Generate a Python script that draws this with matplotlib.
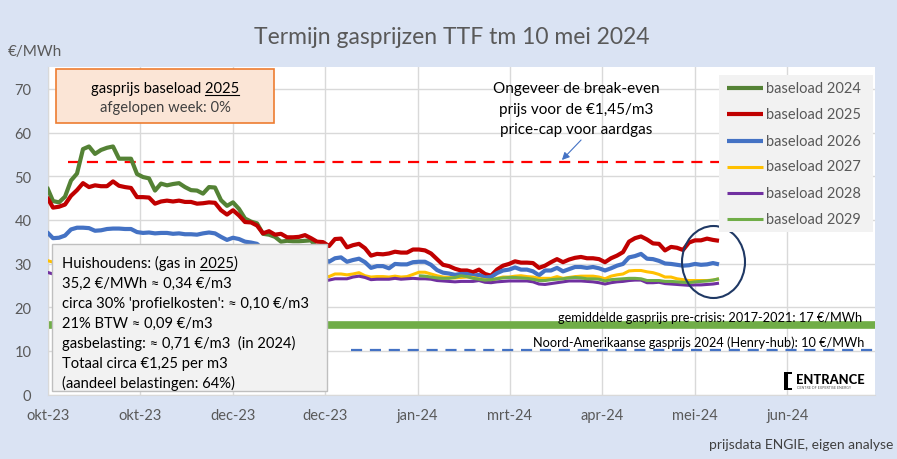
import numpy as np
import matplotlib
matplotlib.use("Agg")
import matplotlib.pyplot as plt
from matplotlib.patches import Rectangle, Ellipse, FancyArrowPatch
from matplotlib.lines import Line2D

plt.rcParams['font.family'] = ['Lato', 'DejaVu Sans']

nan = np.nan

# ---------------- data (EUR/MWh, one value per trading-day step) ----------------
tick_labels = ["okt-23", "okt-23", "dec-23", "dec-23", "jan-24", "mrt-24", "apr-24", "mei-24", "jun-24"]

base2024 = [47.5, 44.3, 44.0, 45.3, 49.0, 50.6, 56.2, 56.8, 55.1, 56.0, 56.5, 56.8, 54.0, 54.0, 54.0,
            50.5, 49.8, 49.5, 46.7, 48.3, 47.9, 48.2, 48.4, 47.5, 46.8, 46.7, 46.0, 47.5, 47.4, 44.5,
            43.2, 44.0, 42.5, 40.3, 39.6, 39.2, 36.8, 36.6, 36.1, 35.0, 35.2, 35.1, 35.1, 35.2, 35.3,
            33.5]

base2025 = [45.2, 42.8, 43.0, 43.5, 45.5, 46.8, 48.4, 47.5, 47.9, 47.7, 47.7, 48.8, 47.8, 47.5, 47.3,
            45.2, 45.2, 45.1, 43.7, 44.2, 44.4, 44.2, 44.4, 44.1, 44.1, 43.7, 43.8, 44.0, 43.9, 42.2,
            41.2, 42.2, 41.0, 39.5, 39.4, 38.7, 36.9, 37.4, 36.6, 36.8, 36.0, 36.0, 36.1, 36.5, 35.8,
            35.0, 34.9, 34.0, 35.6, 35.7, 33.7, 34.2, 34.5, 33.5, 31.8, 32.2, 32.1, 32.3, 32.7, 32.5,
            32.5, 33.2, 33.2, 33.0, 32.3, 31.0, 29.7, 29.4, 28.8, 28.4, 28.4, 28.0, 28.6, 27.6, 27.2,
            28.6, 29.5, 29.9, 30.5, 30.2, 30.2, 30.1, 29.0, 29.5, 30.3, 31.0, 30.3, 30.9, 31.3, 31.5,
            31.2, 31.2, 31.0, 30.3, 31.2, 31.8, 32.6, 35.0, 35.8, 36.2, 35.5, 34.6, 34.5, 33.0, 33.8,
            33.6, 33.1, 34.8, 35.3, 35.3, 35.7, 35.4, 35.2]

base2026 = [37.2, 35.8, 35.9, 36.4, 37.8, 38.2, 38.2, 38.1, 37.5, 37.6, 37.9, 38.0, 38.0, 37.9, 37.9,
            37.2, 37.0, 37.1, 36.9, 37.0, 37.0, 36.8, 36.9, 36.7, 36.7, 36.6, 36.9, 37.1, 36.9, 36.1,
            35.4, 35.9, 35.6, 35.0, 34.8, 34.5, 33.2, 33.5, 33.0, 33.1, 32.5, 32.4, 32.4, 32.7, 32.2,
            31.5, 31.2, 30.4, 31.2, 31.4, 30.4, 30.8, 31.1, 30.3, 29.0, 29.4, 29.4, 28.9, 29.9, 29.8,
            29.8, 30.3, 30.4, 30.4, 29.7, 28.5, 27.9, 27.7, 27.4, 27.6, 27.6, 27.2, 27.4, 26.8, 26.9,
            27.8, 28.4, 28.6, 29.1, 28.6, 28.6, 28.2, 27.3, 28.4, 28.4, 29.0, 28.2, 28.7, 29.2, 29.2,
            29.0, 29.2, 28.9, 28.4, 28.9, 29.5, 29.9, 31.4, 31.7, 32.2, 31.1, 31.0, 30.6, 30.0, 29.9,
            29.7, 29.5, 29.6, 29.9, 29.7, 29.8, 30.1, 29.8]

base2027 = [30.7, 30.3, 30.2, 30.4, 31.0, 31.3, 31.3, 31.2, 31.0, 31.0, 31.1, 31.2, 31.1, 31.0, 31.0,
            30.7, 30.6, 30.6, 30.4, 30.5, 30.5, 30.3, 30.3, 30.2, 30.2, 30.1, 30.2, 30.3, 30.2, 29.8,
            29.4, 29.6, 29.4, 29.0, 28.9, 28.7, 28.2, 28.3, 28.0, 28.1, 27.8, 27.7, 27.7, 27.9, 27.6,
            27.2, 27.1, 27.0, 27.6, 27.6, 27.4, 27.6, 27.9, 27.2, 26.9, 27.0, 27.0, 26.9, 27.1, 26.9,
            27.0, 27.5, 28.0, 28.0, 27.6, 27.2, 26.9, 26.8, 26.7, 26.8, 26.9, 26.8, 26.5, 26.3, 26.1,
            26.6, 26.9, 26.9, 27.1, 27.2, 27.0, 26.9, 26.6, 26.6, 26.6, 27.0, 26.6, 26.8, 27.0, 27.1,
            27.1, 27.1, 26.9, 26.5, 27.1, 27.4, 27.6, 28.3, 28.4, 28.4, 28.1, 27.9, 27.5, 26.9, 26.9,
            26.5, 26.3, 26.1, 26.1, 26.1, 26.1, 26.2, 26.5]

base2028 = [28.0, 27.6, 27.5, 27.7, 28.3, 28.5, 28.5, 28.4, 28.2, 28.2, 28.3, 28.4, 28.3, 28.2, 28.2,
            27.9, 27.8, 27.8, 27.7, 27.7, 27.7, 27.6, 27.6, 27.5, 27.5, 27.4, 27.5, 27.6, 27.5, 27.2,
            26.9, 27.1, 26.9, 26.6, 26.6, 26.5, 26.3, 26.4, 26.2, 26.3, 26.1, 26.1, 26.1, 26.2, 26.1,
            26.0, 26.0, 26.2, 26.5, 26.5, 26.5, 26.9, 27.1, 26.8, 26.3, 26.4, 26.4, 26.4, 26.6, 26.4,
            26.5, 26.6, 26.5, 26.5, 26.4, 26.1, 26.0, 25.9, 25.8, 25.9, 25.9, 25.9, 26.1, 25.7, 25.6,
            25.8, 25.9, 26.0, 26.0, 26.0, 26.0, 25.8, 25.3, 25.2, 25.4, 25.6, 25.8, 26.0, 26.0, 26.0,
            25.9, 25.8, 25.6, 25.3, 25.6, 25.8, 25.9, 26.1, 26.2, 26.2, 25.6, 25.6, 25.7, 25.4, 25.3,
            25.2, 25.1, 25.0, 25.1, 25.1, 25.2, 25.3, 25.5]

base2029 = [nan] * 62 + [
            27.2, 27.1, 26.9, 26.7, 26.6, 26.6, 26.8, 27.2, 27.0, 26.6, 26.4, 26.2, 26.3,
            26.5, 26.7, 26.8, 26.8, 26.7, 26.6, 26.4, 26.1, 26.1, 26.3, 26.4, 26.5, 26.7, 26.8, 26.7,
            26.5, 26.5, 26.4, 26.0, 26.3, 26.4, 26.5, 26.6, 26.6, 26.5, 26.1, 26.1, 26.1, 25.9, 25.9,
            25.8, 25.7, 25.6, 25.8, 25.9, 26.0, 26.2, 26.5]

series_names = ["baseload 2024", "baseload 2025", "baseload 2026",
                "baseload 2027", "baseload 2028", "baseload 2029"]
series_values = [base2024, base2025, base2026, base2027, base2028, base2029]
series_colors = ["#548235", "#c00000", "#4472c4", "#ffc000", "#7030a0", "#70ad47"]
series_widths = [3.0, 3.0, 3.0, 2.2, 2.2, 2.2]

price_cap_level = 53.2      # break-even level for the EUR 1,45/m3 price cap
precrisis_level = 16.0      # average pre-crisis price band
henry_hub_level = 10.3      # Henry-hub reference

# ---------------- figure ----------------
W, H = 897, 460
fig = plt.figure(figsize=(W / 100, H / 100), dpi=100, facecolor="#dae3f3")


def fx(px):
    return px / W


def fy(py):
    return 1 - py / H


ax = fig.add_axes([fx(48), fy(395.5), fx(875) - fx(48), fy(68) - fy(395.5)])
ax.set_facecolor("white")

step = 6.0          # pixels per trading day in the original layout
tick_px = 92.4      # pixels between category ticks
x0 = 1.0 / step

for vals, col, lw in zip(series_values, series_colors, series_widths):
    v = np.array(vals, dtype=float)
    ax.plot(np.arange(len(v)), v, color=col, lw=lw, solid_joinstyle="round",
            solid_capstyle="butt", zorder=3)

xmin, xmax = x0, (875 - 47) / step
# reference lines
ax.plot([(68 - 47) / step, (870 - 47) / step], [price_cap_level] * 2, color="#ff0000",
        lw=1.6, ls=(0, (5, 3.5)), zorder=2)
ax.plot([xmin, xmax], [precrisis_level] * 2, color="#70ad47", lw=5.5,
        solid_capstyle="butt", zorder=2, clip_on=False)
ax.plot([(351 - 47) / step, xmax], [henry_hub_level] * 2, color="#4472c4",
        lw=1.6, ls=(0, (5, 3.5)), zorder=2)

ax.set_xlim(xmin, xmax)
ax.set_ylim(0, 75)
ticks = [x0 + k * tick_px / step for k in range(len(tick_labels))]
ax.set_xticks(ticks)
ax.set_xticklabels(tick_labels)
ax.set_yticks(range(0, 80, 10))
ax.grid(True, color="#d9d9d9", lw=1.0, zorder=0)
ax.tick_params(axis="both", length=0, colors="#595959", labelsize=10.5)
ax.tick_params(axis="x", pad=10)
ax.tick_params(axis="y", pad=12)
for s in ["top", "right"]:
    ax.spines[s].set_visible(False)
ax.spines["left"].set_color("#d9d9d9")
ax.spines["bottom"].set_color("#d9d9d9")

# ---------------- texts ----------------
fig.text(fx(452), fy(38), "Termijn gasprijzen TTF tm 10 mei 2024", ha="center", va="center",
         fontsize=16.5, color="#595959")
fig.text(fx(8), fy(52), "€/MWh", ha="left", va="center", fontsize=11, color="#595959")
fig.text(fx(893), fy(445), "prijsdata ENGIE, eigen analyse", ha="right", va="center",
         fontsize=10, color="#404040")

for py, s in zip([89, 110, 130], ["Ongeveer de break-even", "prijs voor de €1,45/m3",
                                  "price-cap voor aardgas"]):
    fig.text(fx(576), fy(py), s, ha="center", va="center", fontsize=11, color="black")

arrow = FancyArrowPatch((fx(583), fy(139)), (fx(560), fy(163)), transform=fig.transFigure,
                        arrowstyle="-|>", mutation_scale=11, color="#4472c4", lw=0.8)
fig.add_artist(arrow)

fig.text(fx(862), fy(318), "gemiddelde gasprijs pre-crisis: 2017-2021: 17 €/MWh", ha="right",
         va="center", fontsize=9.2, color="black", zorder=4)
fig.text(fx(864), fy(343), "Noord-Amerikaanse gasprijs 2024 (Henry-hub): 10 €/MWh", ha="right",
         va="center", fontsize=9.2, color="black", zorder=4)

# ellipse around the latest values
fig.add_artist(Ellipse((fx(713.5), fy(263)), 63 / W, 72 / H, transform=fig.transFigure,
                       fill=False, edgecolor="#1f3864", lw=1.5, zorder=5))

# legend box
fig.add_artist(Rectangle((fx(719), fy(233)), (873 - 719) / W, (233 - 76) / H,
                         transform=fig.transFigure, facecolor="#f2f2f2", edgecolor="none", zorder=5))
for py, name, col, lw in zip([89, 115, 141.5, 167.5, 194, 220], series_names, series_colors,
                             series_widths):
    fig.add_artist(Line2D([fx(727), fx(763)], [fy(py), fy(py)], transform=fig.transFigure,
                          color=col, lw=lw, zorder=6, solid_capstyle="butt"))
    fig.text(fx(766), fy(py), name, ha="left", va="center", fontsize=10.5, color="#595959", zorder=6)

# orange box
fig.add_artist(Rectangle((fx(56), fy(124)), (274 - 56) / W, (124 - 70) / H,
                         transform=fig.transFigure, facecolor="#fbe5d6", edgecolor="#ed7d31",
                         lw=1.2, zorder=5))
t_or1 = fig.text(fx(165), fy(93), "gasprijs baseload 2025", ha="center", va="baseline",
                 fontsize=10.6, color="black", zorder=6)
fig.text(fx(165), fy(108), "afgelopen week: 0%", ha="center", va="center", fontsize=10.6,
         color="#404040", zorder=6)

# household info box
fig.add_artist(Rectangle((fx(52), fy(392)), (327 - 52) / W, (392 - 245) / H,
                         transform=fig.transFigure, facecolor="#f2f2f2", edgecolor="#bfbfbf",
                         lw=1.0, zorder=5))
info_lines = ["Huishoudens: (gas in 2025)",
              "35,2 €/MWh ≈ 0,34 €/m3",
              "circa 30% 'profielkosten': ≈ 0,10 €/m3",
              "21% BTW ≈ 0,09 €/m3",
              "gasbelasting: ≈ 0,71 €/m3  (in 2024)",
              "Totaal circa €1,25 per m3",
              "(aandeel belastingen: 64%)"]
info_fs = 10.6
for k, s in enumerate(info_lines):
    fig.text(fx(62), fy(268 + 20 * k), s, ha="left", va="baseline",
             fontsize=info_fs, color="black", zorder=6)

# ENTRANCE logo
fig.add_artist(Rectangle((fx(784), fy(391)), 4 / W, 18 / H, transform=fig.transFigure,
                         facecolor="black", edgecolor="none", zorder=4))
fig.add_artist(Rectangle((fx(784), fy(375)), 8 / W, 2 / H, transform=fig.transFigure,
                         facecolor="black", edgecolor="none", zorder=4))
fig.add_artist(Rectangle((fx(784), fy(391)), 8 / W, 2 / H, transform=fig.transFigure,
                         facecolor="black", edgecolor="none", zorder=4))
fig.text(fx(796), fy(380.5), "ENTRANCE", ha="left", va="center", fontsize=9.3, fontweight="black",
         color="black", zorder=4)
fig.text(fx(797), fy(388.5), "CENTRE OF EXPERTISE ENERGY", ha="left", va="center", fontsize=2.6,
         color="#555555", zorder=4)

# underline "2025" in both boxes
fig.canvas.draw()
r = fig.canvas.get_renderer()


def text_width(s, fs):
    tmp = fig.text(0, 0, s, fontsize=fs)
    w = tmp.get_window_extent(r).width
    tmp.remove()
    return w


bb = t_or1.get_window_extent(r)
w1 = text_width("2025", 10.6)
fig.add_artist(Line2D([(bb.x1 - w1) / W, bb.x1 / W], [fy(95.5), fy(95.5)],
                      transform=fig.transFigure, color="black", lw=0.8, zorder=6))

tmp = fig.text(fx(62), fy(268), "Huishoudens: (gas in 2025", ha="left", va="baseline", fontsize=info_fs)
bb2 = tmp.get_window_extent(r)
tmp.remove()
w2 = text_width("2025", info_fs)
fig.add_artist(Line2D([(bb2.x1 - w2) / W, bb2.x1 / W], [fy(270.5), fy(270.5)],
                      transform=fig.transFigure, color="black", lw=0.8, zorder=6))

fig.savefig("out.png", dpi=100, facecolor=fig.get_facecolor())
